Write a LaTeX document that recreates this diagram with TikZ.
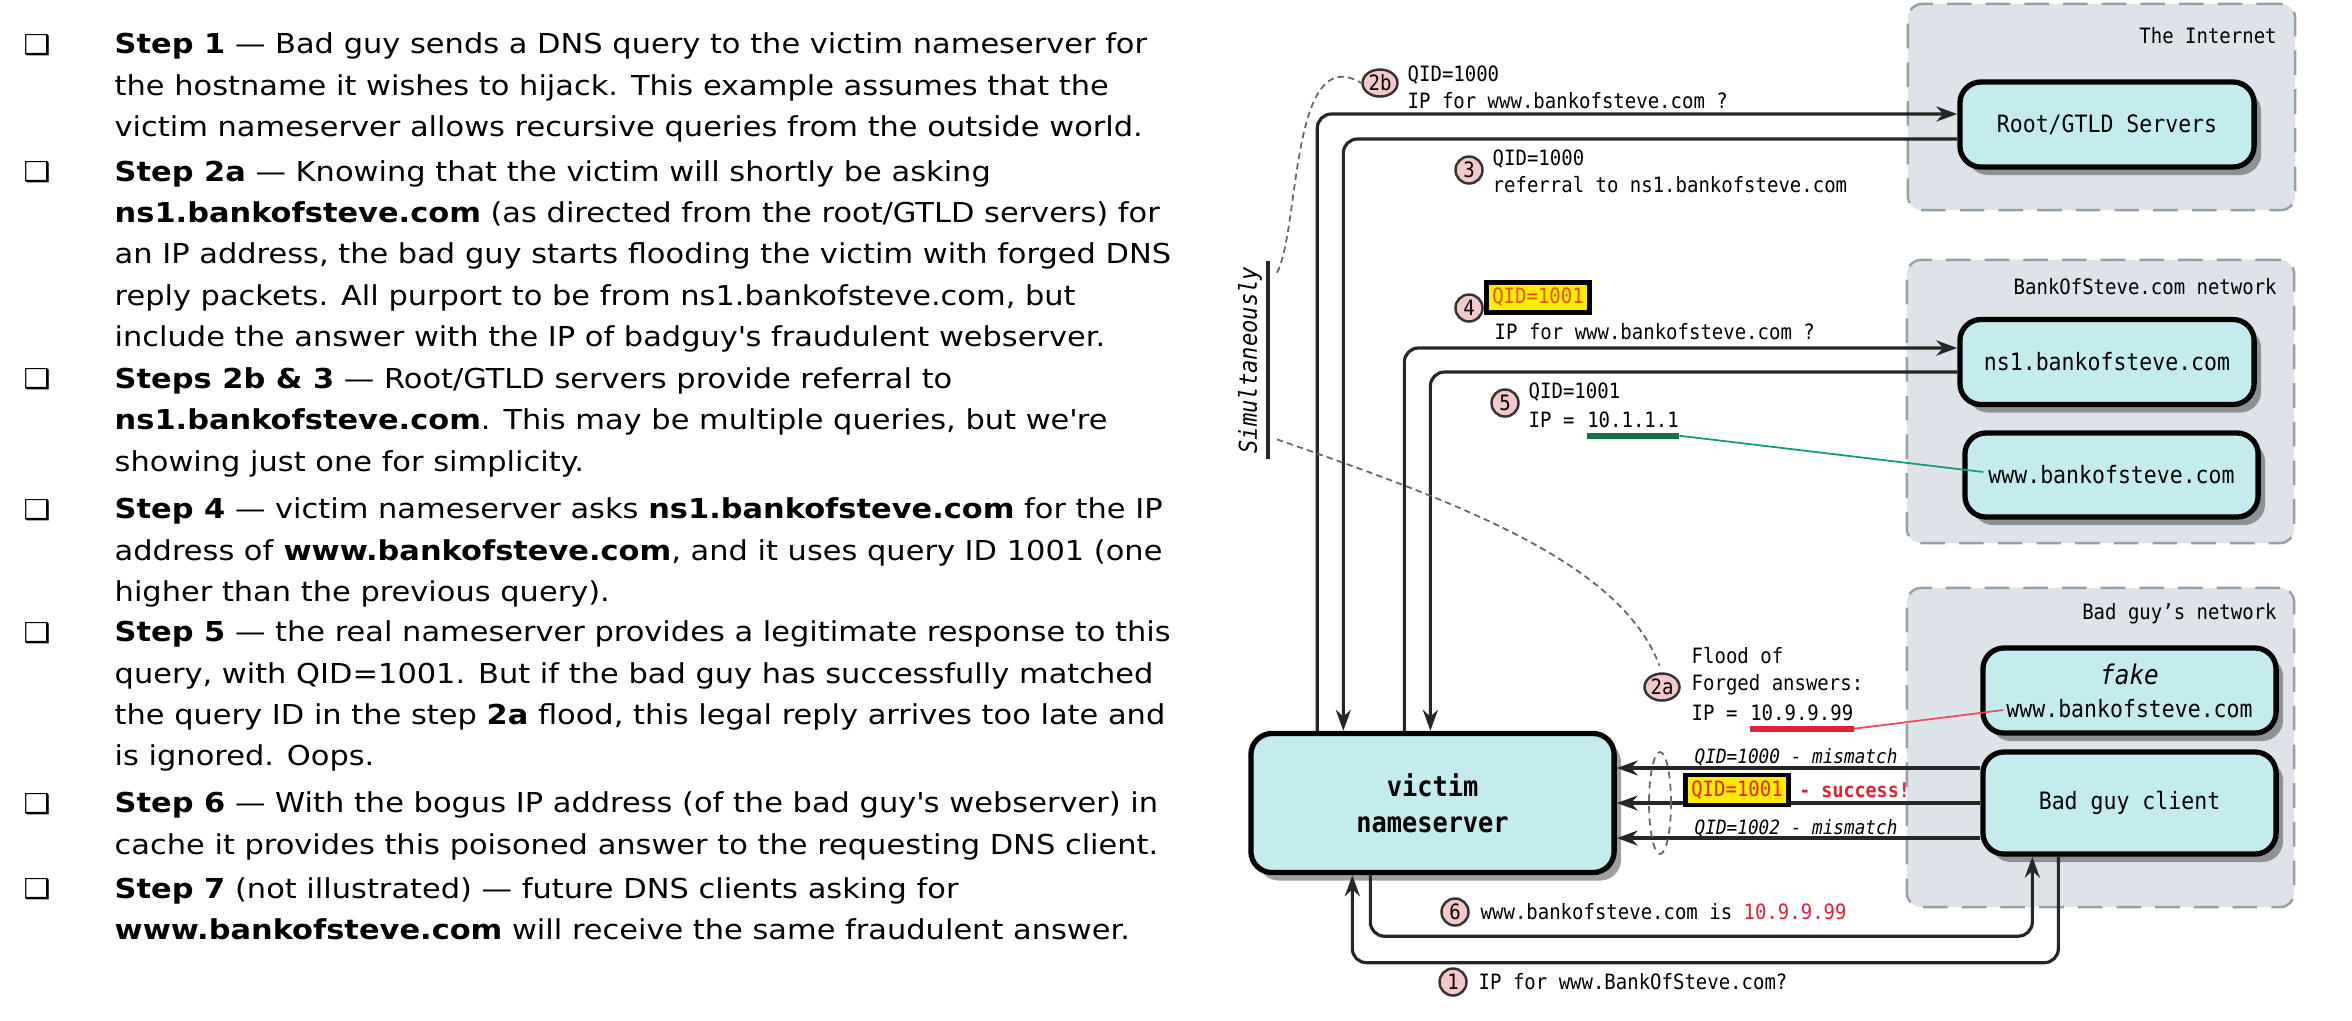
\documentclass[tikz,border=0pt]{standalone}
\usepackage{fontspec}
\setmainfont{DejaVu Sans}[FakeStretch=1.11]
\newfontfamily\mono[FakeStretch=0.9]{DejaVu Sans Mono}
\usetikzlibrary{arrows.meta,positioning,shapes.geometric,shadows}

\definecolor{cajafondo}{RGB}{196,236,238}
\definecolor{zonafondo}{RGB}{221,227,233}
\definecolor{zonaborde}{RGB}{150,158,166}
\definecolor{rosado}{RGB}{242,200,200}
\definecolor{amarillo}{RGB}{255,236,0}
\definecolor{naranja}{RGB}{232,84,20}
\definecolor{rojo}{RGB}{226,34,52}
\definecolor{verde}{RGB}{22,112,72}

\tikzset{
  zona/.style={draw=zonaborde, fill=zonafondo, dash pattern=on 7pt off 4pt,
    line width=0.7pt, rounded corners=4pt, inner sep=0pt},
  zonalbl/.style={anchor=east, inner sep=0pt, font=\mono\fontsize{6}{7}\selectfont},
  caja/.style={draw=black, line width=1.5pt, fill=cajafondo, rounded corners=6pt,
    align=center, font=\mono\fontsize{6.8}{9.4}\selectfont,
    drop shadow={shadow xshift=0.07cm, shadow yshift=-0.08cm, opacity=0.5, fill=black!75}},
  linea/.style={draw=black!85, line width=0.9pt, rounded corners=4pt},
  flecha/.style={linea, -{Stealth[length=2.1mm, width=1.5mm]}},
  punteado/.style={draw=black!60, line width=0.5pt, dash pattern=on 1.8pt off 1.2pt},
  num/.style={ellipse, draw=black!80, line width=0.7pt, fill=rosado, inner sep=0pt,
    minimum width=0.27cm, minimum height=0.27cm, font=\mono\fontsize{6}{6}\selectfont},
  etiq/.style={anchor=west, align=left, inner sep=0pt, font=\mono\fontsize{6}{7.7}\selectfont},
  resalto/.style={draw=black, line width=1.3pt, fill=amarillo, text=naranja, inner sep=1.6pt,
    font=\mono\fontsize{6}{7}\selectfont},
  vineta/.style={anchor=base, inner sep=0pt, font=\fontsize{7.8}{9}\selectfont},
  item/.style={anchor=base west, align=left, inner sep=0pt, font=\fontsize{7.8}{11.75}\selectfont},
}

\begin{document}
\begin{tikzpicture}[x=0.01cm, y=-0.01cm]
\useasboundingbox (0,0) rectangle (2352,1020);

% Texto de la izquierda (la base es la de la ultima linea)
\foreach \y [count=\i] in {54,181.5,388.5,519,642,813,898.5}
  \node[vineta] (b\i) at (37,\y) {❑};

\node[item] (p1) at (114,136.5) {\textbf{Step 1} — Bad guy sends a DNS query to the victim nameserver for\\the hostname it wishes to hijack. This example assumes that the\\victim nameserver allows recursive queries from the outside world.};
\node[item] (p2) at (114,346.5) {\textbf{Step 2a} — Knowing that the victim will shortly be asking\\\textbf{ns1.bankofsteve.com} (as directed from the root/GTLD servers) for\\an IP address, the bad guy starts flooding the victim with forged DNS\\reply packets. All purport to be from ns1.bankofsteve.com, but\\include the answer with the IP of badguy\textquotesingle s fraudulent webserver.};
\node[item] (p3) at (114,471) {\textbf{Steps 2b \& 3} — Root/GTLD servers provide referral to\\\textbf{ns1.bankofsteve.com}. This may be multiple queries, but we\textquotesingle re\\showing just one for simplicity.};
\node[item] (p4) at (114,601.5) {\textbf{Step 4} — victim nameserver asks \textbf{ns1.bankofsteve.com} for the IP\\address of \textbf{www.bankofsteve.com}, and it uses query ID 1001 (one\\higher than the previous query).};
\node[item] (p5) at (114,765.75) {\textbf{Step 5} — the real nameserver provides a legitimate response to this\\query, with QID=1001. But if the bad guy has successfully matched\\the query ID in the step \textbf{2a} flood, this legal reply arrives too late and\\is ignored. Oops.};
\node[item] (p6) at (114,854.25) {\textbf{Step 6} — With the bogus IP address (of the bad guy\textquotesingle s webserver) in\\cache it provides this poisoned answer to the requesting DNS client.};
\node[item] (p7) at (114,939.75) {\textbf{Step 7} (not illustrated) — future DNS clients asking for\\\textbf{www.bankofsteve.com} will receive the same fraudulent answer.};

% Zonas de red
\node[zona, minimum width=3.87cm, minimum height=2.06cm] (internet) at (2101.5,107) {};
\node[zona, minimum width=3.87cm, minimum height=2.83cm] (bankzone) at (2100.5,401.5) {};
\node[zona, minimum width=3.87cm, minimum height=3.19cm] (badzone) at (2100.5,747.5) {};
\node[zonalbl] (lint) at ([xshift=-0.19cm, yshift=-0.33cm]internet.north east) {The Internet};
\node[zonalbl] (lbank) at ([xshift=-0.18cm, yshift=-0.28cm]bankzone.north east) {BankOfSteve.com network};
\node[zonalbl] (lbad) at ([xshift=-0.18cm, yshift=-0.27cm]badzone.north east) {Bad guy’s network};

% Servidores
\node[caja, minimum width=2.94cm, minimum height=0.85cm] (root) at (2107,124.5) {Root/GTLD Servers};
\node[caja, minimum width=2.94cm, minimum height=0.85cm] (ns1) at (2107,362) {ns1.bankofsteve.com};
\node[caja, minimum width=2.93cm, minimum height=0.84cm] (www) at (2111.5,475) {www.bankofsteve.com};
\node[caja, minimum width=2.93cm, minimum height=0.85cm] (fake) at (2129.5,690.5)
  {{\itshape\fontsize{7.7}{9}\selectfont fake}\\www.bankofsteve.com};
\node[caja, minimum width=2.93cm, minimum height=1.02cm] (client) at (2129.5,803) {Bad guy client};
\node[caja, minimum width=3.63cm, minimum height=1.39cm, font=\mono\bfseries\fontsize{8}{10.2}\selectfont]
  (victim) at (1432.5,803) {victim\\nameserver};

% Consultas y respuestas
\draw[flecha] ([xshift=0.69cm]victim.north west) |- ([yshift=0.105cm]root.west);
\draw[flecha] ([yshift=-0.145cm]root.west) -| ([xshift=0.95cm]victim.north west);
\draw[flecha] ([xshift=1.56cm]victim.north west) |- ([yshift=0.14cm]ns1.west);
\draw[flecha] ([yshift=-0.10cm]ns1.west) -| ([xshift=1.82cm]victim.north west);
\draw[flecha] ([yshift=0.35cm]client.west) -- ([yshift=0.35cm]victim.east);
\draw[flecha] (client.west) -- (victim.east);
\draw[flecha] ([yshift=-0.35cm]client.west) -- ([yshift=-0.35cm]victim.east);
\draw[flecha] ([xshift=1.22cm]victim.south west) -- ++(0,61) -| ([xshift=0.52cm]client.south west);
\draw[flecha] ([xshift=0.78cm]client.south west) -- ++(0,106) -| ([xshift=1.04cm]victim.south west);

% Etiquetas
\node[num, minimum width=0.35cm] (c2b) at (1380,83) {2b};
\node[etiq] (l2b) at (1407,87) {QID=1000\\IP for www.bankofsteve.com ?};
\node[num] (c3) at (1469,170) {3};
\node[etiq] (l3) at (1492,171) {QID=1000\\referral to ns1.bankofsteve.com};
\node[num] (c4) at (1469,308) {4};
\node[resalto] (q4) at (1538,297.5) {QID=1001};
\node[etiq] (l4) at (1494,332) {IP for www.bankofsteve.com ?};
\node[num] (c5) at (1505,403) {5};
\node[etiq] (l5a) at (1528,392) {QID=1001};
\node[etiq] (l5b) at (1528,420) {IP =};
\node[etiq, right=3.25pt of l5b] (ip1) {10.1.1.1};
\draw[verde, line width=1.6pt] ([yshift=-2pt]ip1.south west) -- ([yshift=-2pt]ip1.south east);
\draw[verde!70!cyan, line width=0.5pt] ([yshift=-2pt]ip1.south east) -- ([xshift=0.21cm, yshift=0.03cm]www.west);

\node[num, minimum width=0.35cm] (c2a) at (1662,687) {2a};
\node[etiq] (l2a) at (1691,671) {Flood of\\Forged answers:};
\node[etiq] (l2ab) at (1691,713) {IP =};
\node[etiq, right=3.25pt of l2ab] (ip2) {10.9.9.99};
\draw[rojo, line width=1.6pt] ([yshift=-2pt]ip2.south west) -- ([yshift=-2pt]ip2.south east);
\draw[rojo!80, line width=0.5pt] ([yshift=-2pt]ip2.south east) -- ([xshift=0.23cm, yshift=-0.195cm]fake.west);

\node[ellipse, draw=black!60, line width=0.5pt, dash pattern=on 2pt off 1.5pt, inner sep=0pt,
  minimum width=0.22cm, minimum height=1.02cm] (elipse) at (1660,803) {};
\node[etiq, font=\mono\itshape\fontsize{5.6}{7}\selectfont] (m0) at (1694,757) {QID=1000 - mismatch};
\node[resalto, text=rojo] (q1) at (1737,790) {QID=1001};
\node[etiq, right=0.08cm of q1, text=rojo, font=\mono\bfseries\fontsize{5.8}{7}\selectfont] (ok) {- success!};
\node[etiq, font=\mono\itshape\fontsize{5.6}{7}\selectfont] (m2) at (1694,828) {QID=1002 - mismatch};

\node[num] (c6) at (1455,912) {6};
\node[etiq] (l6) at (1480,912) {www.bankofsteve.com is \textcolor{rojo}{10.9.9.99}};
\node[num] (c1) at (1453,982) {1};
\node[etiq] (l1) at (1478,982) {IP for www.BankOfSteve.com?};

% Simultaneamente
\node[rotate=90, inner sep=1.5pt, font=\mono\itshape\fontsize{7}{8}\selectfont] (simul) at (1250,360) {Simultaneously};
\draw[black!85, line width=1pt] (simul.south west) -- (simul.south east);
\draw[punteado] ([xshift=0.09cm, yshift=-0.12cm]simul.south east) .. controls (1300,230) and (1290,40) .. (c2b.west);
\draw[punteado, shorten >=2pt] ([xshift=0.09cm, yshift=0.2cm]simul.south west) .. controls (1450,500) and (1620,560) .. (c2a.north);

\end{tikzpicture}
\end{document}
